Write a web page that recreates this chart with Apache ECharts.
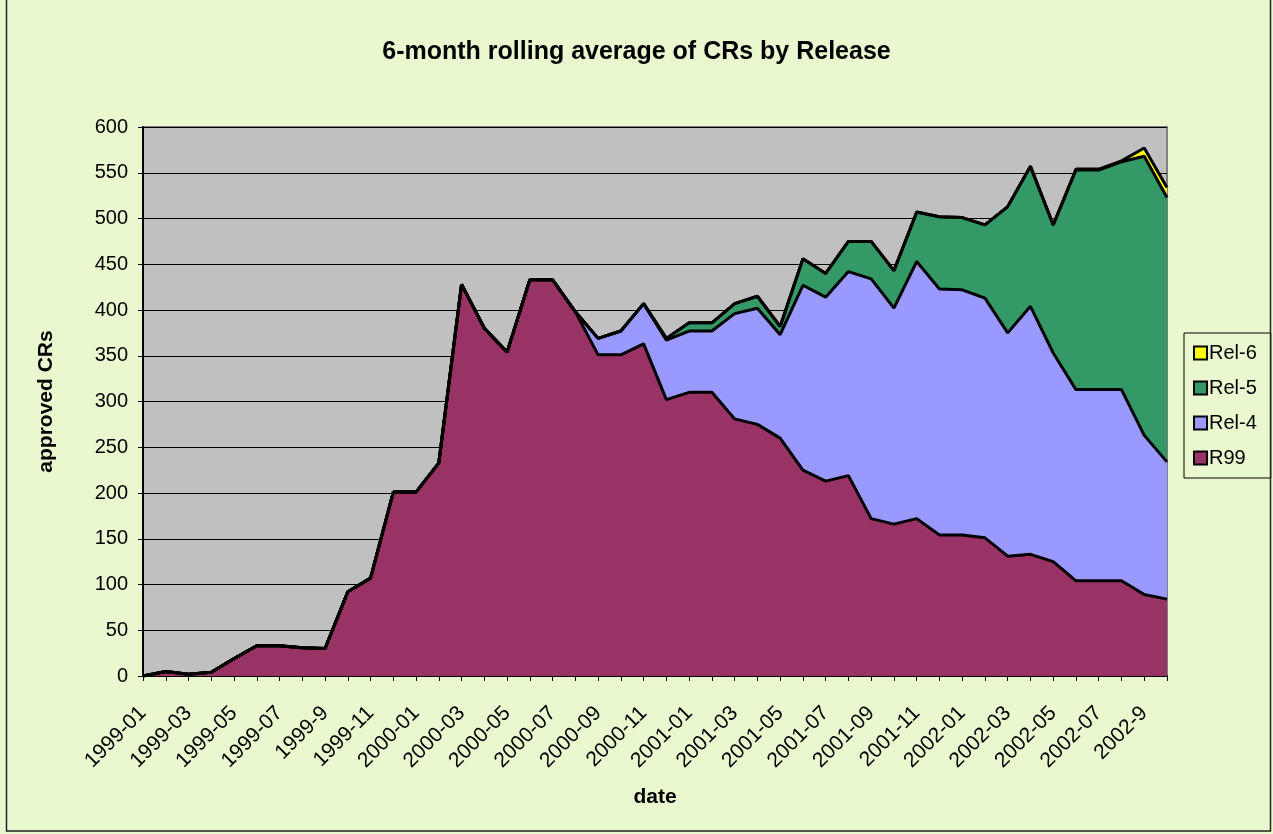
<!DOCTYPE html>
<html>
<head>
<meta charset="utf-8">
<script src="https://cdn.jsdelivr.net/npm/echarts@6/dist/echarts.min.js"></script>
<style>
html,body{margin:0;padding:0;background:#e9f8cf;}
#chart{width:1273px;height:834px;}
</style>
</head>
<body>
<div id="chart"></div>
<script>
const categories = ['1999-01','1999-02','1999-03','1999-04','1999-05','1999-06','1999-07','1999-08','1999-9','1999-10','1999-11','1999-12',
  '2000-01','2000-02','2000-03','2000-04','2000-05','2000-06','2000-07','2000-08','2000-09','2000-10','2000-11','2000-12',
  '2001-01','2001-02','2001-03','2001-04','2001-05','2001-06','2001-07','2001-08','2001-09','2001-10','2001-11','2001-12',
  '2002-01','2002-02','2002-03','2002-04','2002-05','2002-06','2002-07','2002-08','2002-9','2002-10'];
const r99 = [0,5,2,4,19,33,33,31,30,92,107,201,201,233,428,380,354,433,433,398,351,351,363,302,310,310,281,275,260,225,213,219,172,166,172,154,154,151,131,133,125,104,104,104,89,84];
const rel4 = [0,0,0,0,0,0,0,0,0,0,0,0,0,0,0,0,0,0,0,0,18,26,44,65,67,67,115,127,113,202,201,223,262,236,281,269,268,262,244,271,228,209,209,209,174,150];
const rel5 = [0,0,0,0,0,0,0,0,0,0,0,0,0,0,0,0,0,0,0,0,0,0,0,2,9,9,11,13,9,29,26,33,41,41,54,79,79,80,138,153,140,240,240,249,305,289];
const rel6 = [0,0,0,0,0,0,0,0,0,0,0,0,0,0,0,0,0,0,0,0,0,0,0,0,0,0,0,0,0,0,0,0,0,0,0,0,0,0,0,0,0,1,1,1,9,11];
const yTicks = {min:0, max:600, step:50};

const FONT = '"Liberation Sans", Arial, sans-serif';
const chart = echarts.init(document.getElementById('chart'), null, {renderer:'canvas'});
function mk(name, data, color){
  return {
    name, type:'line', stack:'total', data, symbol:'none', smooth:false,
    lineStyle:{color:'#000', width:3},
    itemStyle:{color},
    areaStyle:{color, opacity:1},
    emphasis:{disabled:true}
  };
}
chart.setOption({
  backgroundColor:'#e9f8cf',
  animation:false,
  textStyle:{fontFamily:FONT},
  title:{
    text:'6-month rolling average of CRs by Release',
    left:'center', top:35,
    textStyle:{fontFamily:FONT, fontSize:25, fontWeight:'bold', color:'#000'}
  },
  grid:{left:143, right:106, top:127, bottom:158, show:true, backgroundColor:'#c0c0c0', borderColor:'#808080', borderWidth:2},
  legend:{
    orient:'vertical', left:1184, top:333,
    data:['Rel-6','Rel-5','Rel-4','R99'],
    icon:'rect', itemWidth:13, itemHeight:13, itemGap:15,
    padding:[10,14,10,9],
    backgroundColor:'#e9f8cf', borderColor:'#000', borderWidth:1,
    itemStyle:{borderColor:'#000', borderWidth:2},
    textStyle:{fontFamily:FONT, fontSize:20, color:'#000', padding:[0,0,0,-3]}
  },
  xAxis:{
    type:'category', data:categories, boundaryGap:false,
    name:'date', nameLocation:'middle', nameGap:111,
    nameTextStyle:{fontFamily:FONT, fontSize:21, fontWeight:'bold', color:'#000'},
    axisLine:{lineStyle:{color:'#000', width:2}},
    axisTick:{show:true, interval:0, length:5, lineStyle:{color:'#000'}},
    axisLabel:{interval:1, rotate:45, fontSize:21, color:'#000', margin:34, fontFamily:FONT},
    splitLine:{show:false}
  },
  yAxis:{
    type:'value', min:yTicks.min, max:yTicks.max, interval:yTicks.step,
    name:'approved CRs', nameLocation:'middle', nameRotate:90, nameGap:86,
    nameTextStyle:{fontFamily:FONT, fontSize:21, fontWeight:'bold', color:'#000'},
    axisLine:{show:true, lineStyle:{color:'#000', width:2}},
    axisTick:{show:true, length:5, lineStyle:{color:'#000'}},
    axisLabel:{fontSize:20, color:'#000', margin:15, fontFamily:FONT},
    splitLine:{show:true, lineStyle:{color:'#000', width:1}}
  },
  graphic:[{type:'rect', silent:true, z:100, shape:{x:6.5, y:-3, width:1264, height:834}, style:{fill:null, stroke:'#222', lineWidth:1.5}}],
  series:[
    mk('R99', r99, '#993366'),
    mk('Rel-4', rel4, '#9999ff'),
    mk('Rel-5', rel5, '#339966'),
    mk('Rel-6', rel6, '#ffff00')
  ]
});
</script>
</body>
</html>
